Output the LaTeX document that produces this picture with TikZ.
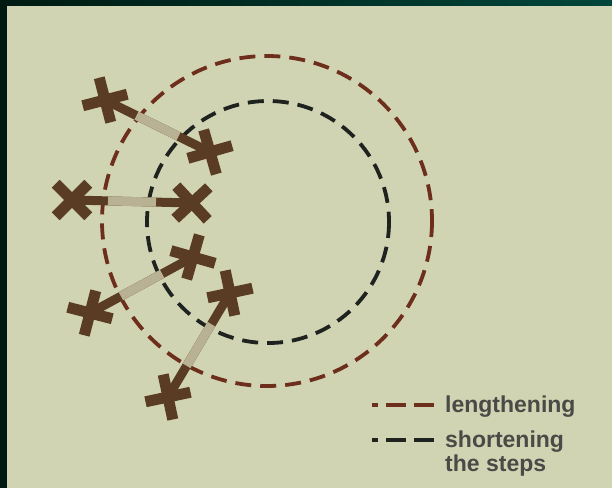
\documentclass[tikz,border=0pt]{standalone}
\usepackage{fontspec}
\setmainfont{Liberation Sans}
\definecolor{bg}{HTML}{D0D4B3}
\definecolor{frameL}{HTML}{001A12}
\definecolor{frameR}{HTML}{00463A}
\definecolor{crossbrown}{HTML}{5A3C24}
\definecolor{lightstep}{HTML}{B8B193}
\definecolor{outerred}{HTML}{6E2E1C}
\definecolor{innerblack}{HTML}{1F2320}
\definecolor{legendtext}{HTML}{4A4A46}
\tikzset{
  crossline/.style={draw=crossbrown, line width=11pt, line cap=butt},
  pics/xmark/.style={code={
    \draw[crossline] (-23,0) -- (23,0);
    \draw[crossline] (0,-23) -- (0,23);
  }},
  stepline/.style={draw=crossbrown, line width=9pt},
  midpart/.style={draw=lightstep, line width=9pt},
  outercirc/.style={draw=outerred, line width=3.8pt, dash pattern=on 16pt off 9pt},
  innercirc/.style={draw=innerblack, line width=3.8pt, dash pattern=on 16pt off 9pt},
  legendlab/.style={font=\bfseries\fontsize{23}{24}\selectfont, text=legendtext, anchor=base west, inner sep=0pt},
}
\begin{document}
\begin{tikzpicture}[x=1pt,y=-1pt]
\useasboundingbox (0,0) rectangle (612,488);
\fill[bg] (0,0) rectangle (612,488);
\shade[left color=frameL, right color=frameR] (0,0) rectangle (612,5);
\fill[frameL] (0,0) rectangle (7,488);

% circles
\draw[outercirc] (267,221) circle[radius=165];
\draw[innercirc] (268,222) circle[radius=121];

% cross centres
\coordinate (c1) at (105,100);
\coordinate (c2) at (210,152);
\coordinate (c3) at (72,200);
\coordinate (c4) at (192,203);
\coordinate (c5) at (193,257);
\coordinate (c6) at (90,313);
\coordinate (c7) at (230,293);
\coordinate (c8) at (168,397);

% step connectors
\foreach \a/\b in {c1/c2, c3/c4, c6/c5, c8/c7}{
  \draw[stepline] (\a) -- (\b);
  \path (\a) -- (\b) coordinate[pos=0.3] (m1) coordinate[pos=0.7] (m2);
  \draw[midpart] (m1) -- (m2);
}

% crosses
\pic[rotate=14.5] at (c1) {xmark};
\pic[rotate=16] at (c2) {xmark};
\pic[rotate=45] at (c3) {xmark};
\pic[rotate=43] at (c4) {xmark};
\pic[rotate=-16] at (c5) {xmark};
\pic[rotate=-14.5] at (c6) {xmark};
\pic[rotate=12] at (c7) {xmark};
\pic[rotate=12] at (c8) {xmark};

% legend
\coordinate (la) at (372,405);
\coordinate (lb) at (437,405);
\coordinate (sa) at (372,440);
\coordinate (sb) at (437,440);
\draw[draw=outerred, line width=3.4pt, dash pattern=on 20pt off 8pt, dash phase=14pt] (la) -- (lb);
\draw[draw=innerblack, line width=3.4pt, dash pattern=on 20pt off 8pt, dash phase=14pt] (sa) -- (sb);
\node[legendlab] (t1) at (445,412) {lengthening};
\node[legendlab] (t2) at (445,447) {shortening};
\node[legendlab] (t3) at (445,471) {the steps};
\end{tikzpicture}
\end{document}
